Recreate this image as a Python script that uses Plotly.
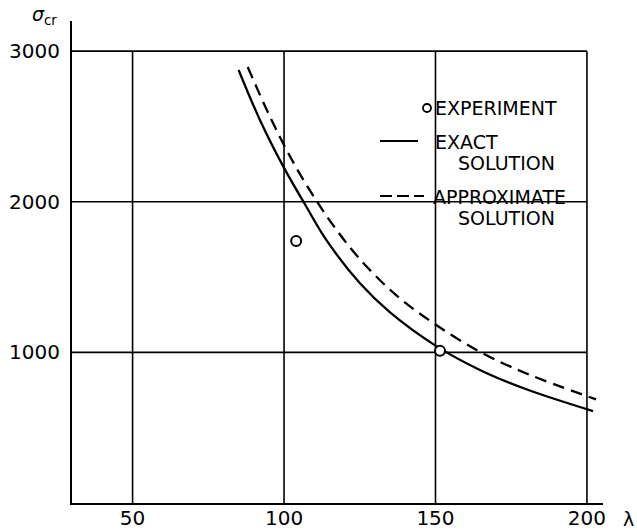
import plotly.graph_objects as go

# ---- data ----
exact_lambda = [85, 92, 100, 107, 114, 125, 135, 150, 165, 180, 202]
exact_sigma = [2875, 2545, 2225, 1980, 1745, 1460, 1265, 1045, 880, 755, 610]

approx_lambda = [88, 95, 102, 109, 116, 125, 137, 150, 165, 180, 203]
approx_sigma = [2895, 2580, 2300, 2060, 1850, 1620, 1380, 1185, 1000, 860, 688]

exp_lambda = [104, 151.5]
exp_sigma = [1740, 1010]

x_ticks = [50, 100, 150, 200]
x_labels = ["50", "100", "150", "200"]
y_ticks = [1000, 2000, 3000]
y_labels = ["1000", "2000", "3000"]

# ---- layout geometry ----
W, H = 637, 530
ML, MR, MT, MB = 72, 34, 21, 27
PW, PH = W - ML - MR, H - MT - MB
X_RANGE = [30, 205.3]
Y_RANGE = [0, 3200]
GRID_X_MIN, GRID_X_MAX = 30, 200
GRID_Y_MIN, GRID_Y_MAX = 0, 3000


def px(xp):
    return (xp - ML) / PW


def py(yp):
    return (H - MB - yp) / PH


FONT = "DejaVu Sans"

fig = go.Figure()

fig.add_trace(go.Scatter(
    x=exact_lambda, y=exact_sigma, mode="lines",
    line=dict(color="black", width=2.3, shape="spline", smoothing=1.0),
    showlegend=False, hoverinfo="skip"))
fig.add_trace(go.Scatter(
    x=approx_lambda, y=approx_sigma, mode="lines",
    line=dict(color="black", width=2.3, dash="12px,7px", shape="spline", smoothing=1.0),
    showlegend=False, hoverinfo="skip"))
fig.add_trace(go.Scatter(
    x=exp_lambda, y=exp_sigma, mode="markers",
    marker=dict(symbol="circle", size=10, color="white",
                line=dict(color="black", width=2)),
    showlegend=False, hoverinfo="skip"))

shapes = []
# grid box / gridlines
for t in x_ticks:
    shapes.append(dict(type="line", xref="x", yref="y", x0=t, x1=t,
                       y0=GRID_Y_MIN, y1=GRID_Y_MAX, layer="below",
                       line=dict(color="black", width=1.6)))
for t in y_ticks:
    shapes.append(dict(type="line", xref="x", yref="y", x0=GRID_X_MIN, x1=GRID_X_MAX,
                       y0=t, y1=t, layer="below",
                       line=dict(color="black", width=1.6)))
# white legend box masking the gridlines
shapes.append(dict(type="rect", xref="paper", yref="paper",
                   x0=px(424), x1=px(579), y0=py(212), y1=py(93),
                   fillcolor="white", line=dict(width=0), layer="below"))
# legend samples
shapes.append(dict(type="line", xref="paper", yref="paper",
                   x0=px(380), x1=px(418), y0=py(141), y1=py(141),
                   line=dict(color="black", width=2)))
shapes.append(dict(type="line", xref="paper", yref="paper",
                   x0=px(380), x1=px(424), y0=py(196), y1=py(196),
                   line=dict(color="black", width=2, dash="12px,5px")))
shapes.append(dict(type="circle", xref="paper", yref="paper",
                   xsizemode="pixel", ysizemode="pixel",
                   xanchor=px(427), yanchor=py(108),
                   x0=-4, x1=4, y0=-4, y1=4,
                   fillcolor="white", line=dict(color="black", width=1.8)))

annotations = []


def label(text, xp, yp, size=19, anchor="left"):
    annotations.append(dict(text=text, xref="paper", yref="paper",
                            x=px(xp), y=py(yp), xanchor=anchor, yanchor="middle",
                            showarrow=False,
                            font=dict(family=FONT, size=size, color="black")))


label("EXPERIMENT", 433, 108)
label("EXACT", 433, 142)
label("SOLUTION", 456, 163)
label("APPROXIMATE", 431, 197)
label("SOLUTION", 456, 218)
label("<i>σ</i><sub>cr</sub>", 44, 15, size=19, anchor="center")
label("λ", 628, 519, size=19, anchor="center")

fig.update_layout(
    width=W, height=H,
    margin=dict(l=ML, r=MR, t=MT, b=MB, pad=0, autoexpand=False),
    paper_bgcolor="white", plot_bgcolor="white",
    shapes=shapes, annotations=annotations,
    xaxis=dict(range=X_RANGE, showgrid=False, zeroline=False, automargin=False,
               showline=True, linecolor="black", linewidth=2,
               tickmode="array", tickvals=x_ticks, ticktext=x_labels,
               ticks="", ticklabelstandoff=-4,
               tickfont=dict(family=FONT, size=20, color="black")),
    yaxis=dict(range=Y_RANGE, showgrid=False, zeroline=False, automargin=False,
               showline=True, linecolor="black", linewidth=2,
               tickmode="array", tickvals=y_ticks, ticktext=y_labels,
               ticks="", ticklabelstandoff=6,
               tickfont=dict(family=FONT, size=20, color="black")),
    showlegend=False,
)

fig.write_html("out.html")
